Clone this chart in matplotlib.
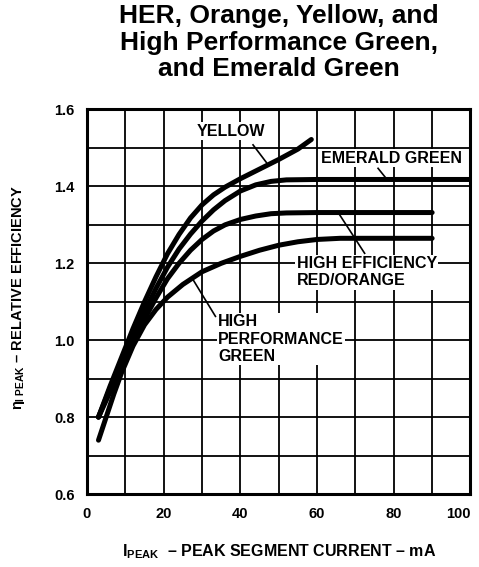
import numpy as np
import matplotlib
matplotlib.use("Agg")
import matplotlib.pyplot as plt

plt.rcParams['font.family'] = ['Liberation Sans', 'DejaVu Sans']
plt.rcParams['font.weight'] = 'bold'
plt.rcParams['mathtext.fontset'] = 'custom'
plt.rcParams['mathtext.rm'] = 'Liberation Sans:bold'
plt.rcParams['mathtext.bf'] = 'Liberation Sans:bold'
plt.rcParams['mathtext.it'] = 'Liberation Sans:bold'

# values (I_peak in mA, relative efficiency)
yellow_x = [3, 6, 9, 12, 15, 18, 21, 24, 27, 30, 33, 36, 40, 45, 50, 55, 58.5]
yellow_y = [0.80, 0.88, 0.955, 1.03, 1.10, 1.165, 1.225, 1.275, 1.318, 1.352, 1.378, 1.398, 1.42, 1.445, 1.47, 1.497, 1.522]

emerald_x = [3, 6, 9, 12, 15, 18, 21, 24, 27, 30, 33, 36, 40, 44, 48, 52, 60, 100]
emerald_y = [0.80, 0.875, 0.945, 1.01, 1.075, 1.135, 1.19, 1.237, 1.276, 1.31, 1.339, 1.363, 1.388, 1.404, 1.413, 1.417, 1.418, 1.418]

her_x = [3, 6, 9, 12, 15, 18, 21, 24, 27, 30, 33, 36, 40, 44, 48, 52, 60, 90]
her_y = [0.80, 0.865, 0.93, 0.995, 1.055, 1.11, 1.16, 1.20, 1.234, 1.262, 1.284, 1.30, 1.314, 1.323, 1.329, 1.331, 1.332, 1.332]

green_x = [3, 5, 7, 9, 12, 15, 18, 21, 25, 30, 35, 40, 45, 50, 55, 60, 66, 90]
green_y = [0.74, 0.80, 0.86, 0.915, 0.985, 1.04, 1.08, 1.112, 1.145, 1.178, 1.20, 1.218, 1.234, 1.247, 1.256, 1.262, 1.265, 1.265]

x_ticks = [0, 20, 40, 60, 80, 100]
y_ticks = [0.6, 0.8, 1.0, 1.2, 1.4, 1.6]

fig = plt.figure(figsize=(4.79, 5.67), dpi=100)
ax = fig.add_axes([0.1816, 0.1287, 0.8006, 0.6782])

for xs, ys in [(yellow_x, yellow_y), (emerald_x, emerald_y), (her_x, her_y), (green_x, green_y)]:
    ax.plot(xs, ys, color='black', lw=3.6, solid_capstyle='round', solid_joinstyle='round', zorder=3)

ax.set_xlim(0, 100)
ax.set_ylim(0.6, 1.6)
ax.set_xticks(x_ticks)
ax.set_xticklabels([str(v) for v in x_ticks])
ax.set_yticks(y_ticks)
ax.set_yticklabels(['0.6', '0.8', '1.0', '1.2', '1.4', '1.6'])
ax.set_xticks(np.arange(0, 101, 10), minor=True)
ax.set_yticks(np.arange(0.6, 1.61, 0.1), minor=True)
ax.grid(which='both', color='black', lw=1.3, zorder=1)
ax.tick_params(which='both', length=0)
ax.tick_params(axis='x', pad=9, labelsize=10.5)
ax.tick_params(axis='y', pad=9, labelsize=10.5)
ax.get_xticklabels()[-1].set_horizontalalignment('right')
for s in ax.spines.values():
    s.set_linewidth(2.2)
    s.set_zorder(4)

box = dict(facecolor='white', edgecolor='none', pad=1)
lab = dict(fontsize=11.5, fontweight='bold', zorder=5, bbox=box)

# labels and leader lines
ax.text(37.5, 1.544, 'YELLOW', ha='center', va='center', **lab)
ax.plot([43.3, 46.8], [1.508, 1.462], color='black', lw=1.2, zorder=3)

ax.text(79.3, 1.473, 'EMERALD GREEN', ha='center', va='center', **lab)
ax.plot([75.9, 78.0], [1.447, 1.421], color='black', lw=1.2, zorder=3)

ax.text(54.7, 1.177, 'HIGH EFFICIENCY\nRED/ORANGE', ha='left', va='center', linespacing=1.2, **lab)
ax.plot([65.5, 72.4], [1.332, 1.226], color='black', lw=1.2, zorder=3)

ax.text(34.2, 1.003, 'HIGH\nPERFORMANCE\nGREEN', ha='left', va='center', linespacing=1.2, **lab)
ax.plot([27.5, 33.5], [1.16, 1.062], color='black', lw=1.2, zorder=3)

fig.text(0.5825, 0.925, 'HER, Orange, Yellow, and\nHigh Performance Green,\nand Emerald Green',
         ha='center', va='center', fontsize=19, fontweight='bold', linespacing=1.13)

fig.text(0.5825, 0.0265, r'$\mathrm{I}_{\mathrm{PEAK}}$  – PEAK SEGMENT CURRENT – mA',
         ha='center', va='center', fontsize=11.5, fontweight='bold')
fig.text(0.0376, 0.476, r'$\eta_{\mathrm{I\ PEAK}}$ – RELATIVE EFFICIENCY',
         ha='center', va='center', rotation=90, fontsize=10.5, fontweight='bold')

fig.savefig('out.png', dpi=100)
